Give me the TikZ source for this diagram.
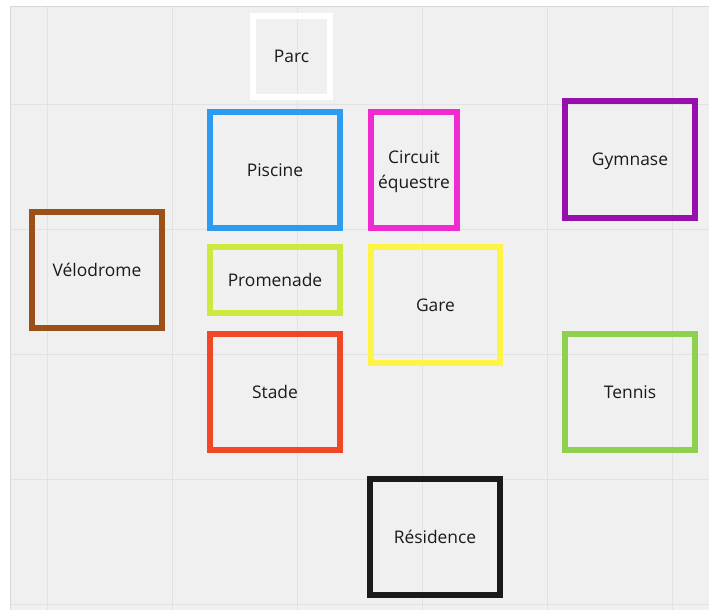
\documentclass[tikz,border=0pt]{standalone}
\usepackage{fontspec}
\setmainfont{Open Sans}
\definecolor{canvas}{HTML}{F0F0F0}
\definecolor{gridc}{HTML}{E2E2E2}
\definecolor{framec}{HTML}{D8D8D8}
\definecolor{txt}{HTML}{1A1A1A}
\definecolor{cblue}{HTML}{2D9BF0}
\definecolor{cmagenta}{HTML}{F02AD0}
\definecolor{cpurple}{HTML}{9510AC}
\definecolor{cbrown}{HTML}{9A5018}
\definecolor{clime}{HTML}{CEE741}
\definecolor{cyellow}{HTML}{FEF445}
\definecolor{cred}{HTML}{F24726}
\definecolor{cgreen}{HTML}{8FD14F}
\definecolor{cblack}{HTML}{1A1A1A}
\tikzset{
  place/.style={draw=#1, line width=6pt, rectangle, inner sep=0pt,
    font=\fontsize{17.4}{25}\selectfont, text=txt, align=center, text depth=0pt}
}
\begin{document}
\begin{tikzpicture}[x=1pt,y=-1pt]
\useasboundingbox (0,0) rectangle (709,610);
\fill[white] (0,0) rectangle (709,610);
\fill[canvas] (10,6) rectangle (709,610);
% grid
\foreach \gx in {47,172,297,422,547,672} \draw[gridc, line width=1pt] (\gx,6) -- (\gx,610);
\foreach \gy in {104,229,354,479,604} \draw[gridc, line width=1pt] (10,\gy) -- (709,\gy);
\draw[framec, line width=1.5pt] (10.5,610) -- (10.5,6.5) -- (709,6.5);
% places
\node[place=white, minimum width=77pt, minimum height=80pt] (parc) at (291.5,56.5) {Parc};
\node[place=cblue, minimum width=130pt, minimum height=116pt] (piscine) at (275,170) {Piscine};
\node[place=cmagenta, minimum width=86pt, minimum height=116pt] (circuit) at (414,170) {Circuit\\équestre};
\node[place=cpurple, minimum width=130pt, minimum height=117pt] (gymnase) at (630,159.5) {Gymnase};
\node[place=cbrown, minimum width=130pt, minimum height=116pt] (velodrome) at (97,270) {Vélodrome};
\node[place=clime, minimum width=130pt, minimum height=66pt] (promenade) at (275,280) {Promenade};
\node[place=cyellow, minimum width=129pt, minimum height=116pt] (gare) at (435.5,305) {Gare};
\node[place=cred, minimum width=130pt, minimum height=116pt] (stade) at (275,392) {Stade};
\node[place=cgreen, minimum width=130pt, minimum height=116pt] (tennis) at (630,392) {Tennis};
\node[place=cblack, minimum width=130pt, minimum height=116pt] (residence) at (435,537) {Résidence};
\end{tikzpicture}
\end{document}
